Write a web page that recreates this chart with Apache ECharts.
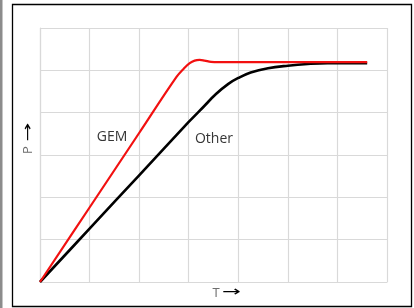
<!DOCTYPE html>
<html>
<head>
<meta charset="utf-8">
<script src="https://cdn.jsdelivr.net/npm/echarts@6/dist/echarts.min.js"></script>
<style>
  html, body { margin: 0; padding: 0; background: #fff; }
  #main { width: 414px; height: 308px; }
</style>
</head>
<body>
<div id="main"></div>
<script>
// T axis and P axis, both unitless grids
var xTicks = [0, 1, 2, 3, 4, 5, 6, 7];
var yTicks = [0, 1, 2, 3, 4, 5, 6];

// GEM curve (red): steep rise, small overshoot, then flat
var gemT = [0, 1.0, 2.0, 2.75, 2.9, 3.02, 3.12, 3.22, 3.32, 3.45, 3.6, 4.5, 5.5, 6.6];
var gemP = [0, 1.76, 3.52, 4.84, 5.04, 5.17, 5.23, 5.245, 5.23, 5.2, 5.195, 5.195, 5.195, 5.195];

// Other curve (black): slower rise, soft knee
var otherT = [0, 1.0, 2.0, 3.0, 3.3, 3.55, 3.8, 4.0, 4.25, 4.6, 5.0, 5.4, 5.8, 6.6];
var otherP = [0, 1.26, 2.52, 3.78, 4.14, 4.44, 4.68, 4.82, 4.95, 5.05, 5.11, 5.15, 5.17, 5.17];

function pairs(xs, ys) {
	var out = [];
	for (var i = 0; i < xs.length; i++) {
		out.push([xs[i], ys[i]]);
	}
	return out;
}

var chart = echarts.init(document.getElementById('main'), null, {renderer: 'canvas'});
var textFont = '"Open Sans", "Liberation Sans", sans-serif';
var arrowFont = '14px "DejaVu Sans", sans-serif';

var option = {
	animation: false,
	backgroundColor: '#fff',
	grid: {
		left: 40,
		right: 27,
		top: 28,
		bottom: 26,
		containLabel: false
	},
	xAxis: {
		type: 'value',
		min: xTicks[0],
		max: xTicks[xTicks.length - 1],
		interval: 1,
		axisLine: {show: true, lineStyle: {color: '#d9d9d9', width: 1.2}},
		axisTick: {show: false},
		axisLabel: {show: false},
		splitLine: {show: true, lineStyle: {color: '#d9d9d9', width: 1.2}}
	},
	yAxis: {
		type: 'value',
		min: yTicks[0],
		max: yTicks[yTicks.length - 1],
		interval: 1,
		axisLine: {show: true, lineStyle: {color: '#d9d9d9', width: 1.2}},
		axisTick: {show: false},
		axisLabel: {show: false},
		splitLine: {show: true, lineStyle: {color: '#d9d9d9', width: 1.2}}
	},
	series: [{
		name: 'Other',
		type: 'line',
		data: pairs(otherT, otherP),
		smooth: 0.4,
		showSymbol: false,
		lineStyle: {color: '#000', width: 2.6},
		z: 2
	}, {
		name: 'GEM',
		type: 'line',
		data: pairs(gemT, gemP),
		smooth: 0.4,
		showSymbol: false,
		lineStyle: {color: '#f21010', width: 2.2},
		z: 3
	}],
	graphic: [{
		type: 'rect',
		shape: {x: 0, y: 0, width: 2.5, height: 308},
		style: {fill: '#8c8c8c'},
		silent: true
	}, {
		type: 'rect',
		shape: {x: 12.5, y: 4.5, width: 399, height: 302},
		style: {fill: 'none', stroke: '#000', lineWidth: 1.3},
		silent: true
	}, {
		type: 'text',
		x: 112, y: 137,
		style: {text: 'GEM', font: '14px ' + textFont, fill: '#363636', align: 'center', verticalAlign: 'middle'}
	}, {
		type: 'text',
		x: 214, y: 139,
		style: {text: 'Other', font: '14px ' + textFont, fill: '#363636', align: 'center', verticalAlign: 'middle'}
	}, {
		type: 'text',
		x: 216, y: 293,
		style: {text: 'T', font: '13px ' + textFont, fill: '#6e6e6e', align: 'center', verticalAlign: 'middle'}
	}, {
		type: 'text',
		x: 231.5, y: 292,
		scaleX: 1.6,
		style: {text: '→', font: arrowFont, fill: '#000', align: 'center', verticalAlign: 'middle'}
	}, {
		type: 'text',
		x: 28, y: 150,
		rotation: Math.PI / 2,
		style: {text: 'P', font: '13px ' + textFont, fill: '#6e6e6e', align: 'center', verticalAlign: 'middle'}
	}, {
		type: 'text',
		x: 28.5, y: 132,
		rotation: Math.PI / 2,
		scaleX: 1.6,
		style: {text: '→', font: arrowFont, fill: '#000', align: 'center', verticalAlign: 'middle'}
	}]
};

chart.setOption(option);
</script>
</body>
</html>
